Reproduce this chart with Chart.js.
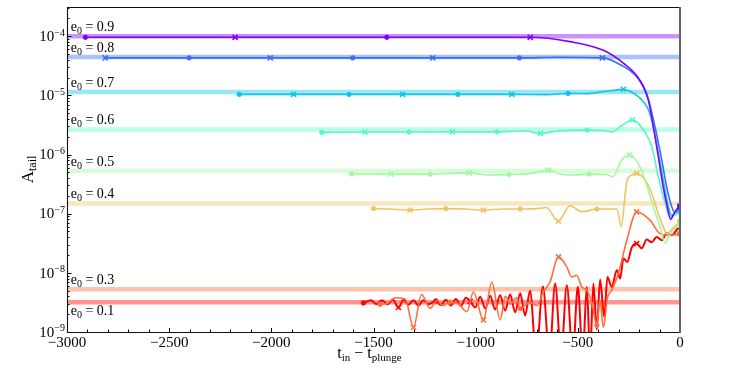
<!DOCTYPE html>
<html><head><meta charset="utf-8">
<script src="https://cdn.jsdelivr.net/npm/chart.js@4.4.1/dist/chart.umd.min.js"></script>
<style>html,body{margin:0;padding:0;background:#fff;}#wrap{width:747px;height:374px;}</style>
</head><body><div id="wrap"><canvas id="c" width="747" height="374"></canvas></div>
<script>
// ---------- data ----------
const eccentricities = ['0.9', '0.8', '0.7', '0.6', '0.5', '0.4', '0.3', '0.1'];
const bandLevels = [1.0e-4, 4.45e-5, 1.14e-5, 2.66e-6, 5.3e-7, 1.49e-7, 5.28e-9, 3.18e-9];
const seriesRGB = [[128,0,255],[56,110,249],[15,196,231],[87,247,199],[163,248,161],[238,196,100],[255,110,58],[255,0,0]];
const xTickValues = [-3000, -2500, -2000, -1500, -1000, -500, 0];
const yTickExponents = [-9, -8, -7, -6, -5, -4];

// [t_in - t_plunge, A_tail, marker]  marker: 'o' dot, 'x' cross, 's' end square, '' none
const curve09 = [[-2910,9.6e-5,'o'],[-2177,9.6e-5,'x'],[-1435,9.6e-5,'o'],[-733,9.6e-5,'x'],[-538,8.1e-5,''],[-375,5.8e-5,''],[-277,3.5e-5,''],[-196,1.8e-5,''],[-155,8.3e-6,''],[-130,2.9e-6,''],[-106,9.1e-7,''],[-82,2.8e-7,''],[-62,1.3e-7,''],[-46,8.0e-8,''],[-30,1.0e-7,''],[-10,1.25e-7,''],[0,1.3e-7,'s']];
const curve08 = [[-2813,4.3e-5,'x'],[-2402,4.3e-5,'o'],[-2005,4.3e-5,'x'],[-1602,4.3e-5,'o'],[-1210,4.3e-5,'x'],[-786,4.3e-5,'o'],[-600,4.4e-5,''],[-380,4.3e-5,'x'],[-285,3.2e-5,''],[-212,2.06e-5,''],[-163,1.08e-5,''],[-122,2.9e-6,''],[-89,8.0e-7,''],[-65,2.8e-7,''],[-40,1.3e-7,''],[-24,1.05e-7,''],[-8,1.3e-7,''],[0,1.35e-7,'s']];
const curve07 = [[-2157,1.04e-5,'o'],[-1891,1.04e-5,'x'],[-1620,1.04e-5,'o'],[-1358,1.04e-5,'x'],[-1087,1.04e-5,'o'],[-823,1.04e-5,'x'],[-650,1.03e-5,''],[-548,1.08e-5,'o'],[-450,1.07e-5,''],[-380,1.15e-5,''],[-320,1.22e-5,''],[-277,1.27e-5,'x'],[-240,1.15e-5,''],[-196,9.0e-6,''],[-147,4.9e-6,''],[-114,1.5e-6,''],[-82,3.7e-7,''],[-57,1.3e-7,''],[-40,9.3e-8,''],[-20,1.05e-7,''],[0,1.15e-7,'s']];
const curve06 = [[-1753,2.37e-6,'o'],[-1541,2.4e-6,'x'],[-1326,2.4e-6,'o'],[-1114,2.42e-6,'x'],[-896,2.42e-6,'o'],[-760,2.5e-6,''],[-683,2.28e-6,'x'],[-600,2.5e-6,''],[-455,2.59e-6,'o'],[-370,2.52e-6,''],[-330,2.42e-6,''],[-285,3.1e-6,''],[-233,3.85e-6,'x'],[-179,2.6e-6,''],[-138,1.35e-6,''],[-106,4.2e-7,''],[-73,1.5e-7,''],[-49,8.8e-8,''],[-25,9.5e-8,''],[0,1.07e-7,'s']];
const curve05 = [[-1606,4.7e-7,'o'],[-1415,4.66e-7,'x'],[-1223,4.66e-7,'o'],[-1032,4.9e-7,'x'],[-940,4.5e-7,''],[-836,4.6e-7,'o'],[-720,4.8e-7,''],[-644,5.45e-7,'x'],[-590,4.7e-7,''],[-530,4.5e-7,''],[-444,4.66e-7,'o'],[-360,4.6e-7,''],[-330,4.2e-7,''],[-285,8.0e-7,''],[-246,9.8e-7,'x'],[-196,6.2e-7,''],[-160,2.84e-7,''],[-130,1.3e-7,''],[-98,6.0e-8,''],[-73,3.2e-8,''],[-49,4.6e-8,''],[-20,5.8e-8,''],[0,6.4e-8,'s']];
const curve04 = [[-1500,1.22e-7,'o'],[-1420,1.2e-7,''],[-1321,1.15e-7,'x'],[-1230,1.2e-7,''],[-1146,1.22e-7,'o'],[-1050,1.2e-7,''],[-962,1.15e-7,'x'],[-870,1.2e-7,''],[-782,1.2e-7,'o'],[-700,1.22e-7,''],[-655,1.27e-7,''],[-595,7.5e-8,'x'],[-538,1.36e-7,''],[-481,1.08e-7,''],[-407,1.2e-7,'o'],[-340,1.2e-7,''],[-309,1.2e-7,''],[-287,6.0e-8,''],[-268,2.2e-7,''],[-258,3.7e-7,''],[-236,4.5e-7,''],[-212,4.8e-7,'x'],[-171,3.7e-7,''],[-138,2.2e-7,''],[-106,1.0e-7,''],[-82,6.0e-8,''],[-65,4.6e-8,''],[-40,5.5e-8,''],[0,7.3e-8,'s']];
const curve03 = [[-1468,2.94e-9,'o'],[-1435,3.0e-9,''],[-1395,3.8e-9,''],[-1345,3.6e-9,''],[-1304,1.2e-9,'x'],[-1265,4.3e-9,''],[-1223,2.5e-9,''],[-1190,3.4e-9,''],[-1160,2.8e-9,''],[-1125,3.2e-9,'o'],[-1085,3.0e-9,''],[-1043,2.2e-9,''],[-1011,4.75e-9,''],[-962,1.6e-9,'x'],[-921,7.0e-9,''],[-880,1.6e-9,''],[-855,4.0e-9,''],[-831,3.0e-9,''],[-800,3.8e-9,''],[-782,2.5e-9,'o'],[-734,3.2e-9,''],[-700,2.8e-9,''],[-669,4.75e-9,''],[-636,7.0e-9,''],[-595,1.86e-8,'x'],[-554,1.26e-8,''],[-530,8.5e-9,''],[-505,9.1e-9,''],[-481,5.8e-9,''],[-456,5.1e-9,''],[-430,3.0e-9,''],[-407,1.3e-9,'o'],[-392,3.5e-9,''],[-375,1.2e-9,''],[-355,3.8e-9,''],[-334,5.1e-9,''],[-302,9.7e-9,''],[-260,3.6e-8,''],[-212,1.07e-7,'x'],[-147,7.8e-8,''],[-98,4.6e-8,''],[-49,4.3e-8,''],[0,4.6e-8,'s']];
const curve01 = [[-1549,3.1e-9,'o'],[-1513,3.45e-9,''],[-1486,2.95e-9,''],[-1459,3.45e-9,''],[-1432,2.95e-9,''],[-1405,3.5e-9,''],[-1378,2.6e-9,'x'],[-1353,3.5e-9,''],[-1329,2.9e-9,''],[-1304,3.45e-9,''],[-1280,2.8e-9,''],[-1256,3.45e-9,''],[-1231,2.95e-9,''],[-1195,3.35e-9,'o'],[-1170,2.85e-9,''],[-1146,3.5e-9,''],[-1121,2.8e-9,''],[-1097,3.6e-9,''],[-1072,2.75e-9,''],[-1048,3.8e-9,''],[-1027,3.3e-9,'x'],[-1002,2.6e-9,''],[-978,3.95e-9,''],[-953,2.5e-9,''],[-929,4.1e-9,''],[-905,2.4e-9,''],[-880,4.2e-9,''],[-856,2.3e-9,''],[-831,4.3e-9,''],[-807,2.15e-9,''],[-782,4.5e-9,''],[-758,1.9e-9,''],[-734,5.0e-9,''],[-704,4e-10,''],[-671,5.9e-9,''],[-639,4e-10,''],[-611,6.6e-9,''],[-582,4e-10,''],[-554,6.2e-9,''],[-525,4e-10,''],[-500,5.8e-9,''],[-476,4e-10,''],[-456,5.8e-9,''],[-440,4e-10,''],[-424,6.6e-9,''],[-407,1.1e-9,''],[-391,7.7e-9,''],[-371,1.8e-9,''],[-355,8.5e-9,''],[-334,5.8e-9,''],[-309,1.11e-8,''],[-293,8.0e-9,''],[-277,1.75e-8,''],[-258,1.53e-8,''],[-236,2.7e-8,''],[-212,3.13e-8,'x'],[-187,2.6e-8,''],[-163,3.66e-8,''],[-138,3.3e-8,''],[-114,4.05e-8,''],[-89,3.56e-8,''],[-65,4.73e-8,''],[-40,4.33e-8,''],[-8,5.83e-8,''],[0,6.0e-8,'s']];
const curves = [curve09, curve08, curve07, curve06, curve05, curve04, curve03, curve01];

// ---------- chart ----------
const FONT = '"Liberation Serif", "DejaVu Serif", serif';
const X_MIN = -3000, X_MAX = 0, Y_MIN = 1e-9, Y_MAX = 3.12e-4;
function rgba(i, a) { const c = seriesRGB[i]; return `rgba(${c[0]},${c[1]},${c[2]},${a})`; }

const datasets = [];
curves.forEach((cv, i) => {
  datasets.push({
    label: 'e0 = ' + eccentricities[i],
    data: cv.map(p => ({ x: p[0], y: p[1], m: p[2] })),
    borderColor: rgba(i, 1),
    backgroundColor: rgba(i, 1),
    pointBorderColor: rgba(i, 1),
    pointBackgroundColor: rgba(i, 1),
    borderWidth: i === 7 ? 2 : 1.6,
    cubicInterpolationMode: 'monotone',
    pointStyle: ctx => { const m = ctx.raw && ctx.raw.m; return m === 'x' ? 'crossRot' : (m === 's' ? 'rect' : 'circle'); },
    pointRadius: ctx => { const m = ctx.raw && ctx.raw.m; return m === 'x' ? 3.6 : (m === 'o' ? 2.2 : (m === 's' ? 3.2 : 0)); },
    pointBorderWidth: ctx => (ctx.raw && ctx.raw.m === 'x') ? 1.6 : 1,
    clip: 0,
    order: 1
  });
  datasets.push({
    label: 'band ' + eccentricities[i],
    data: [{ x: X_MIN, y: bandLevels[i] }, { x: X_MAX, y: bandLevels[i] }],
    borderColor: rgba(i, 0.42),
    borderWidth: 4.5,
    pointRadius: 0,
    clip: 0,
    order: 10
  });
});

function rich(ctx, parts, x, y, align) {
  let w = 0;
  parts.forEach(p => { ctx.font = p.s + 'px ' + FONT; p.w = ctx.measureText(p.t).width; w += p.w; });
  let cx = align === 'right' ? x - w : (align === 'center' ? x - w / 2 : x);
  ctx.textAlign = 'left';
  ctx.textBaseline = 'alphabetic';
  parts.forEach(p => { ctx.font = p.s + 'px ' + FONT; ctx.fillText(p.t, cx, y + (p.dy || 0)); cx += p.w; });
}

const deco = {
  id: 'deco',
  afterDraw(chart) {
    const { ctx, chartArea: a, scales: { x: xs, y: ys } } = chart;
    ctx.save();
    ctx.fillStyle = '#000';
    ctx.strokeStyle = '#000';
    // series labels
    curves.forEach((cv, i) => {
      const by = ys.getPixelForValue(bandLevels[i]);
      const ty = i === 7 ? by + 13 : by - 5;
      rich(ctx, [{ t: 'e', s: 14 }, { t: '0', s: 10, dy: 3 }, { t: ' = ' + eccentricities[i], s: 14 }], xs.getPixelForValue(-2982), ty, 'left');
    });
    // ticks
    ctx.lineWidth = 1;
    ctx.beginPath();
    for (let v = X_MIN; v <= X_MAX; v += 100) {
      const px = Math.round(xs.getPixelForValue(v)) + 0.5;
      const len = (v % 500 === 0) ? 4 : 2.5;
      ctx.moveTo(px, a.bottom); ctx.lineTo(px, a.bottom - len);
    }
    yTickExponents.forEach(e => {
      for (let k = 1; k <= 9; k++) {
        const v = k * Math.pow(10, e);
        if (v > Y_MAX) break;
        const py = Math.round(ys.getPixelForValue(v)) + 0.5;
        const len = k === 1 ? 4.5 : 2.5;
        ctx.moveTo(a.left, py); ctx.lineTo(a.left + len, py);
      }
    });
    ctx.stroke();
    // frame
    ctx.lineWidth = 1.1;
    ctx.strokeStyle = '#111';
    ctx.beginPath();
    ctx.moveTo(a.right, a.top + 0.5); ctx.lineTo(a.left + 0.5, a.top + 0.5);
    ctx.lineTo(a.left + 0.5, a.bottom + 0.5); ctx.lineTo(a.right, a.bottom + 0.5);
    ctx.stroke();
    ctx.strokeStyle = '#666';
    ctx.lineWidth = 2;
    ctx.beginPath();
    ctx.moveTo(a.right, a.top); ctx.lineTo(a.right, a.bottom + 1);
    ctx.stroke();
    // x tick labels
    ctx.fillStyle = '#000';
    xTickValues.forEach(v => {
      const s = v < 0 ? '\u2212' + Math.abs(v) : String(v);
      rich(ctx, [{ t: s, s: 15 }], xs.getPixelForValue(v), a.bottom + 14.5, 'center');
    });
    // y tick labels
    yTickExponents.forEach(e => {
      const py = ys.getPixelForValue(Math.pow(10, e));
      rich(ctx, [{ t: '10', s: 15 }, { t: '\u2212' + Math.abs(e), s: 10, dy: -5.4 }], a.left - 2, py + 4.7, 'right');
    });
    // axis titles
    rich(ctx, [{ t: 't', s: 16 }, { t: 'in', s: 11, dy: 3 }, { t: ' \u2212 ', s: 16 }, { t: 't', s: 16 }, { t: 'plunge', s: 11, dy: 3 }], (a.left + a.right) / 2 - 4, a.bottom + 25.5, 'center');
    ctx.save();
    ctx.translate(33, (a.top + a.bottom) / 2);
    ctx.rotate(-Math.PI / 2);
    rich(ctx, [{ t: 'A', s: 17 }, { t: 'tail', s: 12, dy: 3 }], 0, 0, 'center');
    ctx.restore();
    ctx.restore();
  }
};

new Chart(document.getElementById('c'), {
  type: 'line',
  data: { datasets },
  options: {
    responsive: false,
    animation: false,
    devicePixelRatio: 1,
    events: [],
    layout: { padding: { left: 67, right: 67, top: 7, bottom: 42 } },
    plugins: { legend: { display: false }, tooltip: { enabled: false } },
    scales: {
      x: { type: 'linear', min: X_MIN, max: X_MAX, display: false },
      y: { type: 'logarithmic', min: Y_MIN, max: Y_MAX, display: false }
    }
  },
  plugins: [deco]
});
</script></body></html>
